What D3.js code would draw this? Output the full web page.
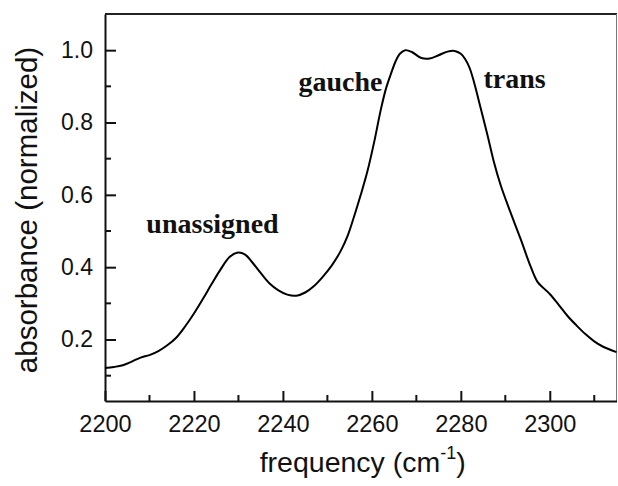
<!DOCTYPE html>
<html>
<head>
<meta charset="utf-8">
<script src="https://cdn.jsdelivr.net/npm/d3@7"></script>
<style>
  html, body { margin: 0; padding: 0; background: #fff; }
  svg { display: block; }
</style>
</head>
<body>
<svg id="chart" width="618" height="486"></svg>
<script>
// ---- data ----
const frequency = [
  2200, 2202, 2204, 2206, 2208, 2210, 2212, 2214, 2216, 2218,
  2220, 2222, 2224, 2226, 2228, 2229.7, 2231.5, 2233, 2235, 2237,
  2239, 2241, 2243, 2245, 2247, 2249, 2251, 2253, 2254.5, 2256,
  2257.5, 2259, 2260.5, 2262, 2263.2, 2264.3, 2265.3, 2266.3, 2267.5, 2269,
  2271, 2273, 2275, 2277, 2278.6, 2280, 2281, 2282, 2283, 2284.5,
  2286, 2287.5, 2289, 2291, 2293.5, 2295.5, 2297.2, 2298.6, 2300, 2302,
  2304, 2306, 2308, 2310, 2312, 2315
];
const absorbance = [
  0.121, 0.124, 0.129, 0.139, 0.150, 0.157, 0.168, 0.184, 0.205, 0.236,
  0.272, 0.312, 0.354, 0.394, 0.428, 0.440, 0.435, 0.415, 0.384, 0.355,
  0.336, 0.324, 0.321, 0.330, 0.348, 0.374, 0.405, 0.445, 0.485, 0.540,
  0.600, 0.665, 0.745, 0.835, 0.895, 0.935, 0.968, 0.990, 1.000, 0.995,
  0.979, 0.977, 0.986, 0.996, 0.998, 0.990, 0.975, 0.950, 0.910, 0.838,
  0.765, 0.688, 0.625, 0.557, 0.476, 0.408, 0.360, 0.342, 0.326, 0.296,
  0.265, 0.239, 0.215, 0.195, 0.180, 0.165
];
const xTicks = [2200, 2220, 2240, 2260, 2280, 2300];
const xMinorTicks = [2210, 2230, 2250, 2270, 2290, 2310];
const yTicks = [0.2, 0.4, 0.6, 0.8, 1.0];
const yMinorTicks = [0.1, 0.3, 0.5, 0.7, 0.9];
const annotations = [
  { text: "unassigned", f: 2209.3, a: 0.495 },
  { text: "gauche", f: 2243.5, a: 0.888 },
  { text: "trans", f: 2285.1, a: 0.895 }
];

// ---- layout ----
const plotL = 105, plotR = 616.5, plotT = 14, plotB = 401;
const svg = d3.select("#chart");
const x = d3.scaleLinear().domain([2200, 2315]).range([plotL, plotR]);
const y = d3.scaleLinear().domain([0.03, 1.1]).range([plotB, plotT]);

const sans = "'Liberation Sans', Arial, sans-serif";
const serif = "'Liberation Serif', 'Times New Roman', serif";

// frame: top and right
svg.append("line").attr("x1", plotL).attr("x2", plotR + 0.5).attr("y1", plotT).attr("y2", plotT)
  .attr("stroke", "#222").attr("stroke-width", 2);
svg.append("line").attr("x1", plotR).attr("x2", plotR).attr("y1", plotT).attr("y2", plotB)
  .attr("stroke", "#777").attr("stroke-width", 1);

// x axis (ticks inward)
const xAxis = svg.append("g").attr("transform", `translate(0,${plotB})`)
  .call(d3.axisBottom(x).tickValues(xTicks).tickFormat(d3.format("d"))
    .tickSizeInner(-10).tickSizeOuter(0).tickPadding(14));
xAxis.select(".domain").attr("stroke", "#111").attr("stroke-width", 2);
xAxis.selectAll(".tick line").attr("stroke", "#111").attr("stroke-width", 2);
xAxis.selectAll(".tick text").attr("font-family", sans).attr("font-size", 23.5).attr("fill", "#111");
svg.append("g").selectAll("line").data(xMinorTicks).join("line")
  .attr("x1", d => x(d)).attr("x2", d => x(d)).attr("y1", plotB).attr("y2", plotB - 6)
  .attr("stroke", "#111").attr("stroke-width", 2);

// y axis (ticks inward)
const yAxis = svg.append("g").attr("transform", `translate(${plotL},0)`)
  .call(d3.axisLeft(y).tickValues(yTicks).tickFormat(d3.format(".1f"))
    .tickSizeInner(-11).tickSizeOuter(0).tickPadding(12));
yAxis.select(".domain").attr("stroke", "#111").attr("stroke-width", 2);
yAxis.selectAll(".tick line").attr("stroke", "#111").attr("stroke-width", 2);
yAxis.selectAll(".tick text").attr("font-family", sans).attr("font-size", 23).attr("fill", "#111");
svg.append("g").selectAll("line").data(yMinorTicks).join("line")
  .attr("x1", plotL).attr("x2", plotL + 6).attr("y1", d => y(d)).attr("y2", d => y(d))
  .attr("stroke", "#111").attr("stroke-width", 2);

// axis titles
const xt = svg.append("text").attr("x", (plotL + plotR) / 2 + 2).attr("y", 472)
  .attr("text-anchor", "middle").attr("font-family", sans).attr("font-size", 28.5).attr("fill", "#111");
xt.append("tspan").text("frequency (cm");
xt.append("tspan").attr("dy", -13).attr("font-size", 18).text("-1");
xt.append("tspan").attr("dy", 13).text(")");

svg.append("text").attr("transform", `translate(37,210) rotate(-90)`)
  .attr("text-anchor", "middle").attr("font-family", sans).attr("font-size", 29.5).attr("fill", "#111")
  .text("absorbance (normalized)");

// curve
const pts = frequency.map((f, i) => [f, absorbance[i]]);
const line = d3.line().x(d => x(d[0])).y(d => y(d[1])).curve(d3.curveCatmullRom.alpha(0.5));
svg.append("path").datum(pts).attr("d", line)
  .attr("fill", "none").attr("stroke", "#000").attr("stroke-width", 2);

// annotations
svg.append("g").selectAll("text").data(annotations).join("text")
  .attr("x", d => x(d.f)).attr("y", d => y(d.a))
  .attr("font-family", serif).attr("font-weight", "bold").attr("font-size", 28).attr("fill", "#111")
  .text(d => d.text);
</script>
</body>
</html>
